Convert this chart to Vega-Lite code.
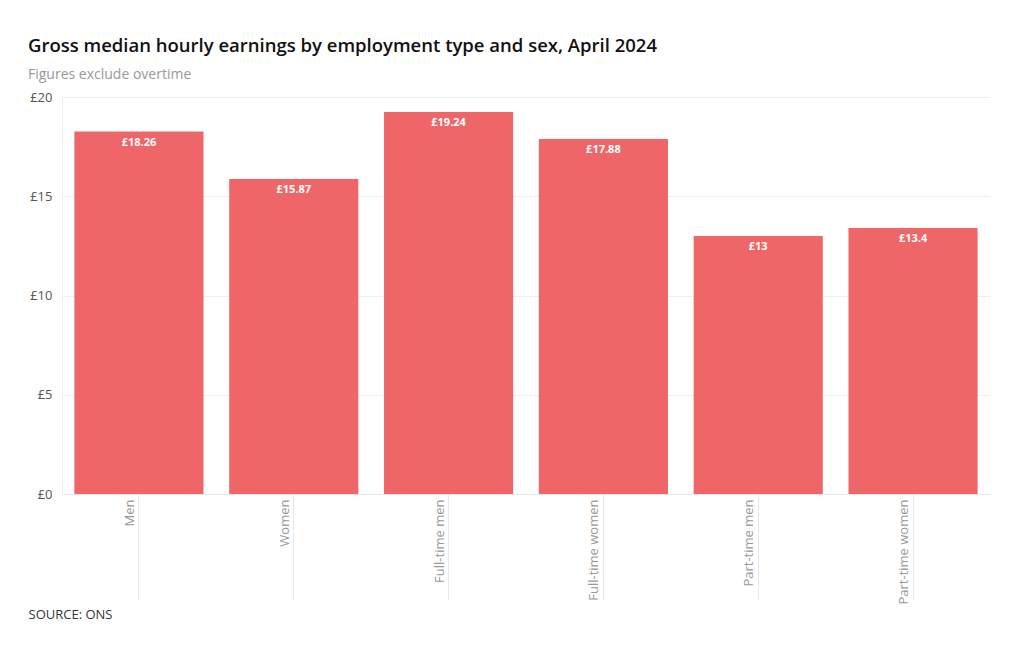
{
  "$schema": "https://vega.github.io/schema/vega-lite/v6.json",
  "width": 928,
  "height": 397,
  "autosize": {"type": "none"},
  "padding": {"left": 62, "top": 97, "right": 30, "bottom": 156},
  "background": "white",
  "config": {
    "font": "Open Sans",
    "view": {"stroke": null}
  },
  "title": {
    "text": "Gross median hourly earnings by employment type and sex, April 2024",
    "subtitle": "Figures exclude overtime",
    "anchor": "start",
    "frame": "group",
    "dx": -34,
    "offset": 9,
    "font": "Open Sans",
    "fontSize": 18.5,
    "fontWeight": 600,
    "color": "#111111",
    "subtitleFont": "Open Sans",
    "subtitleFontSize": 14,
    "subtitleColor": "#999999",
    "subtitlePadding": 13
  },
  "data": {
    "values": [
      {"category": "Men", "value": 18.26},
      {"category": "Women", "value": 15.87},
      {"category": "Full-time men", "value": 19.24},
      {"category": "Full-time women", "value": 17.88},
      {"category": "Part-time men", "value": 13},
      {"category": "Part-time women", "value": 13.4}
    ]
  },
  "transform": [{"calculate": "'£' + datum.value", "as": "label"}],
  "encoding": {
    "x": {
      "field": "category",
      "type": "nominal",
      "sort": null,
      "scale": {"paddingInner": 0.166, "paddingOuter": 0.08},
      "axis": {
        "title": "SOURCE: ONS",
        "titleAnchor": "start",
        "titleAlign": "left",
        "titleBaseline": "alphabetic",
        "titleX": -34,
        "titleY": 124,
        "titleFont": "Open Sans",
        "titleFontSize": 13,
        "titleFontWeight": "normal",
        "titleColor": "#333333",
        "labelAngle": -90,
        "labelAlign": "right",
        "labelBaseline": "bottom",
        "labelPadding": -101,
        "labelFontSize": 13,
        "labelColor": "#999999",
        "labelFont": "Open Sans",
        "tickSize": 106,
        "tickColor": "#e8e8e8",
        "domainColor": "#e8e8e8",
        "labelOffset": -2
      }
    },
    "y": {
      "field": "value",
      "type": "quantitative",
      "scale": {"domain": [0, 20]},
      "axis": {
        "title": null,
        "values": [0, 5, 10, 15, 20],
        "labelExpr": "'£' + datum.value",
        "labelFontSize": 13,
        "labelColor": "#555555",
        "labelFont": "Open Sans",
        "labelPadding": 10,
        "ticks": false,
        "domainColor": "#eeeeee",
        "gridColor": "#eeeeee"
      }
    }
  },
  "layer": [
    {"mark": {"type": "bar", "color": "#ef6668"}},
    {
      "mark": {"type": "text", "baseline": "top", "dy": 5, "color": "white", "fontSize": 11, "fontWeight": "bold", "font": "Open Sans"},
      "encoding": {"text": {"field": "label"}}
    }
  ]
}
